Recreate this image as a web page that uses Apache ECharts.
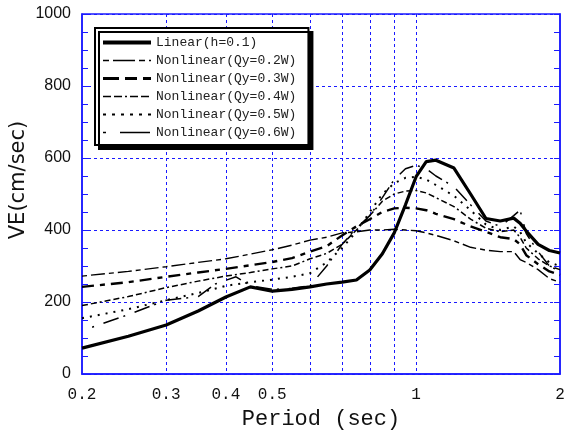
<!DOCTYPE html>
<html>
<head>
<meta charset="utf-8">
<script src="https://cdn.jsdelivr.net/npm/echarts@6/dist/echarts.min.js"></script>
<style>html,body{margin:0;padding:0;background:#fff}#c{width:570px;height:434px}</style>
</head>
<body>
<div id="c"></div>
<script>
const periods = [0.2, 0.25, 0.3, 0.35, 0.4, 0.45, 0.5, 0.55, 0.6, 0.65, 0.7, 0.75, 0.8, 0.85, 0.9, 0.95, 1.0, 1.05, 1.1, 1.2, 1.3, 1.4, 1.5, 1.6, 1.65, 1.7, 1.8, 1.9, 2.0];
const linearH01 = [72, 105, 136, 175, 214, 242, 230, 235, 242, 250, 255, 261, 289, 334, 392, 470, 548, 590, 594, 572, 500, 432, 425, 433, 419, 397, 360, 343, 336];
const qy02 = [272, 285, 298, 310, 320, 333, 345, 358, 372, 380, 392, 395, 400, 400, 402, 400, 398, 392, 385, 370, 352, 344, 340, 340, 318, 310, 290, 265, 255];
const qy03 = [242, 255, 270, 282, 292, 302, 311, 322, 340, 355, 385, 410, 430, 450, 460, 462, 460, 455, 445, 430, 410, 395, 380, 375, 360, 330, 305, 285, 275];
const qy04 = [190, 215, 240, 258, 272, 282, 292, 300, 320, 335, 360, 400, 440, 480, 500, 508, 510, 503, 490, 465, 430, 405, 395, 400, 380, 350, 320, 300, 290];
const qy05 = [155, 180, 205, 225, 245, 255, 262, 270, 280, 310, 350, 395, 450, 500, 530, 545, 548, 540, 525, 495, 455, 415, 400, 410, 395, 365, 335, 310, 300];
const periods06 = [0.21, 0.25, 0.3, 0.35, 0.38, 0.42, 0.45, 0.5, 0.55, 0.6, 0.65, 0.7, 0.75, 0.8, 0.85, 0.9, 0.95, 1.0, 1.05, 1.1, 1.2, 1.3, 1.4, 1.5, 1.6, 1.65, 1.7, 1.8, 1.9, 2.0];
const qy06 = [130, 165, 205, 215, 250, 270, 245, 235, 238, 245, 300, 360, 405, 440, 490, 540, 570, 580, 570, 550, 520, 470, 425, 410, 440, 455, 390, 340, 300, 285];
const xLabelValues = [0.2, 0.3, 0.4, 0.5, 1, 2];
const xGridValues = [0.3, 0.4, 0.5, 0.6, 0.7, 0.8, 0.9, 1];
const seriesNames = ['Linear(h=0.1)', 'Nonlinear(Qy=0.2W)', 'Nonlinear(Qy=0.3W)', 'Nonlinear(Qy=0.4W)', 'Nonlinear(Qy=0.5W)', 'Nonlinear(Qy=0.6W)'];

const zip = (xs, ys) => xs.map((x, i) => [x, ys[i]]);
const blue = '#1a1aff';
const styles = [
  {width: 3.2, type: 'solid'},
  {width: 1.4, type: [5, 4, 14, 4]},
  {width: 2.4, type: [12, 6, 5, 6]},
  {width: 1.5, type: [6, 3, 6, 3, 2, 3]},
  {width: 2, type: [2, 6]},
  {width: 1.5, type: [2, 10, 16, 5]}
];
const legendStyles = [
  {width: 4, type: 'solid'},
  {width: 1.5, type: [6, 4, 22, 4]},
  {width: 3, type: [16, 6, 12, 6]},
  {width: 1.5, type: [8, 3, 8, 3, 2, 3]},
  {width: 2, type: [3, 6]},
  {width: 1.5, type: [3, 14, 30, 5]}
];
const dataSets = [
  zip(periods, linearH01), zip(periods, qy02), zip(periods, qy03),
  zip(periods, qy04), zip(periods, qy05), zip(periods06, qy06)
];

const chart = echarts.init(document.getElementById('c'), null, {renderer: 'canvas'});
chart.setOption({
  animation: false,
  backgroundColor: '#fff',
  grid: {left: 82, right: 10, top: 14, bottom: 60, containLabel: false, outerBoundsMode: 'none',
    show: true, borderColor: blue, borderWidth: 1.5, backgroundColor: 'transparent'},
  legend: {
    orient: 'vertical', left: 95, top: 28,
    data: seriesNames.map((name, i) => ({name, lineStyle: {color: '#000', width: legendStyles[i].width, type: legendStyles[i].type}})),
    backgroundColor: '#fff', borderColor: '#000', borderWidth: 2,
    shadowColor: '#000', shadowOffsetX: 4, shadowOffsetY: 4, shadowBlur: 0,
    padding: [8, 12, 6, 6],
    itemWidth: 48, itemHeight: 12, itemGap: 5,
    itemStyle: {opacity: 0},
    textStyle: {fontFamily: 'Liberation Mono', fontSize: 13, color: '#222'}
  },
  xAxis: {
    type: 'log', logBase: 10, min: 0.2, max: 2,
    name: 'Period (sec)', nameLocation: 'middle', nameGap: 34, nameMoveOverlap: false,
    nameTextStyle: {fontFamily: 'Liberation Mono', fontSize: 22, color: '#111'},
    axisLine: {show: true, lineStyle: {color: blue, width: 1.5}},
    axisTick: {show: false, customValues: xGridValues},
    axisLabel: {customValues: xLabelValues, margin: 13, fontFamily: 'Liberation Mono', fontSize: 16, color: '#111',
      formatter: v => String(Math.round(v * 10) / 10)},
    splitLine: {show: true, lineStyle: {color: blue, type: [3, 3], width: 1}},
    minorTick: {show: false}, minorSplitLine: {show: false}
  },
  yAxis: [{
    type: 'value', min: 0, max: 1000, interval: 200,
    name: 'VE(cm/sec)', nameLocation: 'middle', nameGap: 53, nameMoveOverlap: false,
    nameTextStyle: {fontFamily: 'DejaVu Sans', fontSize: 21, color: '#111', padding: [0, 0, 0, 28]},
    axisLine: {show: true, lineStyle: {color: blue, width: 1.5}},
    axisTick: {show: true, inside: true, length: 6, lineStyle: {color: blue}},
    minorTick: {show: true, splitNumber: 4, length: 6, lineStyle: {color: blue}},
    axisLabel: {margin: 11, fontFamily: 'Liberation Sans', fontSize: 16, color: '#111', formatter: v => String(v)},
    splitLine: {show: true, lineStyle: {color: blue, type: [3, 3], width: 1}}
  }, {
    type: 'value', min: 0, max: 1000, interval: 200, position: 'right',
    axisLine: {show: true, lineStyle: {color: blue, width: 1.5}},
    axisTick: {show: true, inside: true, length: 6, lineStyle: {color: blue}},
    minorTick: {show: true, splitNumber: 4, length: 6, lineStyle: {color: blue}},
    axisLabel: {show: false}, splitLine: {show: false}
  }],
  series: seriesNames.map((name, i) => ({
    name, type: 'line', data: dataSets[i], showSymbol: false, symbol: 'none',
    smooth: false, z: i === 0 ? 5 : 3,
    lineStyle: {color: '#000', width: styles[i].width, type: styles[i].type},
    itemStyle: {color: '#000'}
  }))
});
</script>
</body>
</html>
